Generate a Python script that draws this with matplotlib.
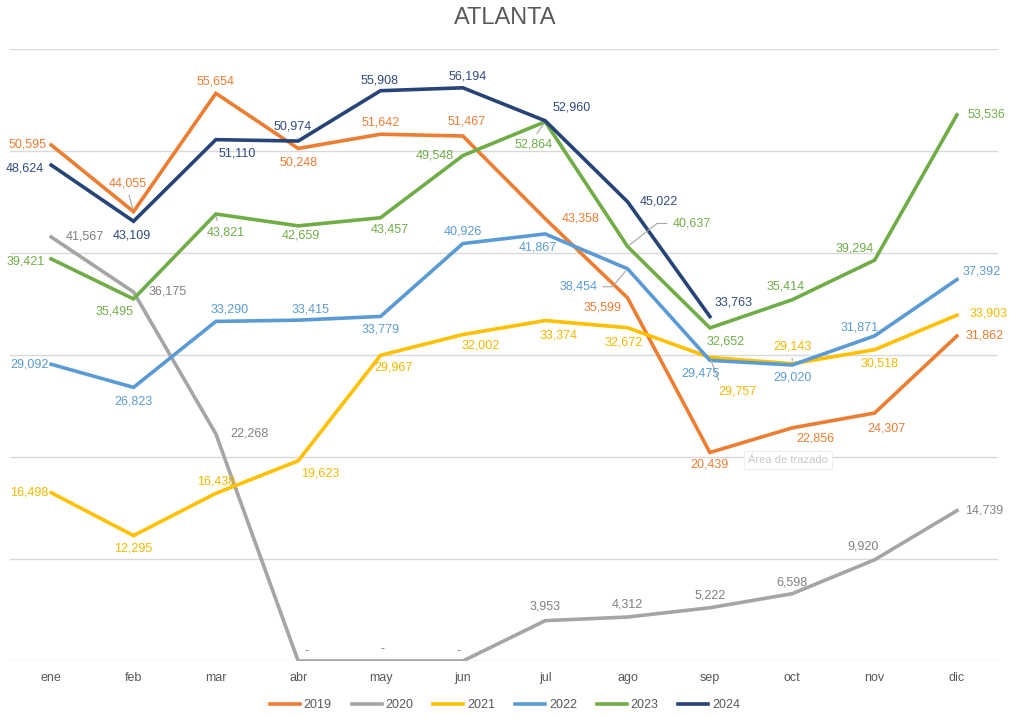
import matplotlib
matplotlib.use('Agg')
import matplotlib.pyplot as plt

plt.rcParams['font.family'] = ['Liberation Sans', 'DejaVu Sans']

# datos
meses = ['ene', 'feb', 'mar', 'abr', 'may', 'jun', 'jul', 'ago', 'sep', 'oct', 'nov', 'dic']
v2019 = [50595, 44055, 55654, 50248, 51642, 51467, 43358, 35599, 20439, 22856, 24307, 31862]
v2020 = [41567, 36175, 22268, 0, 0, 0, 3953, 4312, 5222, 6598, 9920, 14739]
v2021 = [16498, 12295, 16438, 19623, 29967, 32002, 33374, 32672, 29757, 29143, 30518, 33903]
v2022 = [29092, 26823, 33290, 33415, 33779, 40926, 41867, 38454, 29475, 29020, 31871, 37392]
v2023 = [39421, 35495, 43821, 42659, 43457, 49548, 52864, 40637, 32652, 35414, 39294, 53536]
v2024 = [48624, 43109, 51110, 50974, 55908, 56194, 52960, 45022, 33763]

series = [
    ('2019', v2019, '#ED7D31', '#ED7D31'),
    ('2020', v2020, '#A5A5A5', '#808080'),
    ('2021', v2021, '#FFC000', '#F2B800'),
    ('2022', v2022, '#5B9BD5', '#5B9BD5'),
    ('2023', v2023, '#70AD47', '#70AD47'),
    ('2024', v2024, '#264478', '#2E4A7D'),
]

# desplazamiento de las etiquetas (pixeles)
offs = {
    '2019': [(-24, 0), (-6, 28), (0, 12), (0, -14), (0, 12), (4, 15), (35, 0), (-25, -10),
             (0, -12), (23, -11), (12, -15), (28, 0)],
    '2020': [(34, 0), (34, 0), (34, 0), (8, 10), (2, 12), (-4, 10), (0, 14), (0, 13),
             (0, 12), (0, 11), (-12, 13), (27, 0)],
    '2021': [(-22, 0), (0, -13), (0, 12), (22, -13), (13, -12), (18, -11), (13, -15), (-4, -15),
             (28, -34), (0, 17), (5, -14), (32, 2)],
    '2022': [(-22, 0), (0, -14), (14, 12), (12, 11), (0, -13), (0, 12), (-7, -14), (-49, -18),
             (-9, -13), (0, -13), (-15, 8), (25, 8)],
    '2023': [(-25, -3), (-19, -13), (10, -18), (3, -10), (9, -12), (-28, 0), (-12, -23), (64, 23),
             (16, -14), (-7, 13), (-20, 12), (30, 0)],
    '2024': [(-26, -3), (-2, -14), (21, -14), (-6, 15), (-1, 10), (5, 11), (26, 13), (31, 0),
             (24, 14)],
}
# lineas guia: (relpos en la etiqueta, estilo de conexion)
lideres = {
    ('2019', 1): ((0.5, 0), 'arc3'),
    ('2021', 8): ((0.05, 1), 'arc3'),
    ('2021', 9): ((0.5, 0), 'arc3'),
    ('2022', 7): ((1, 0.5), 'angle,angleA=180,angleB=230,rad=0'),
    ('2023', 2): ((0.3, 1), 'arc3'),
    ('2023', 6): ((0.5, 1), 'arc3'),
    ('2023', 7): ((0, 0.5), 'angle,angleA=180,angleB=38,rad=0'),
    ('2024', 3): ((0.6, 0), 'arc3'),
}

fig = plt.figure(figsize=(10.1, 7.17), dpi=100)
ax = fig.add_axes([0.0099, 0.0781, 0.9783, 0.8536])

for nombre, vals, col, tcol in series:
    x = list(range(len(vals)))
    ax.plot(x, vals, color=col, lw=2.6, solid_joinstyle='miter', label=nombre, zorder=3)
    for i, v in enumerate(vals):
        txt = '-' if v == 0 else f'{v:,}'
        dx, dy = offs[nombre][i]
        props = None
        if (nombre, i) in lideres:
            rp, cs = lideres[(nombre, i)]
            props = dict(arrowstyle='-', color='#A6A6A6', lw=0.8, shrinkA=2, shrinkB=2,
                         relpos=rp, connectionstyle=cs)
        ax.annotate(txt, (i, v), xytext=(dx, dy), textcoords='offset pixels',
                    ha='center', va='center', fontsize=9, color=tcol,
                    arrowprops=props, zorder=4)

ax.set_xlim(-0.5, 11.5)
ax.set_ylim(0, 60000)
ax.set_yticks(range(0, 60001, 10000))
ax.yaxis.grid(True, color='#D9D9D9', lw=1)
ax.set_axisbelow(True)
ax.tick_params(axis='y', left=False, labelleft=False)
ax.set_xticks(range(12))
ax.set_xticklabels(meses, fontsize=9, color='#595959')
ax.tick_params(axis='x', length=0, pad=8)
for s in ax.spines.values():
    s.set_visible(False)

fig.text(0.5, 0.975, 'ATLANTA', ha='center', va='center', fontsize=17, color='#595959')

# rotulo flotante de Excel
ax.text(8.95, 19700, 'Área de trazado', fontsize=8, color='#C8C8C8', ha='center', va='center',
        bbox=dict(boxstyle='square,pad=0.35', fc='white', ec='#EEEEEE', lw=0.8), zorder=5)

fig.legend(loc='center', bbox_to_anchor=(0.5, 1 - 705 / 717), ncol=6, frameon=False,
           fontsize=9, handlelength=2.4, handletextpad=0.3, columnspacing=1.6,
           labelcolor='#595959')

fig.savefig('out.png', dpi=100)
